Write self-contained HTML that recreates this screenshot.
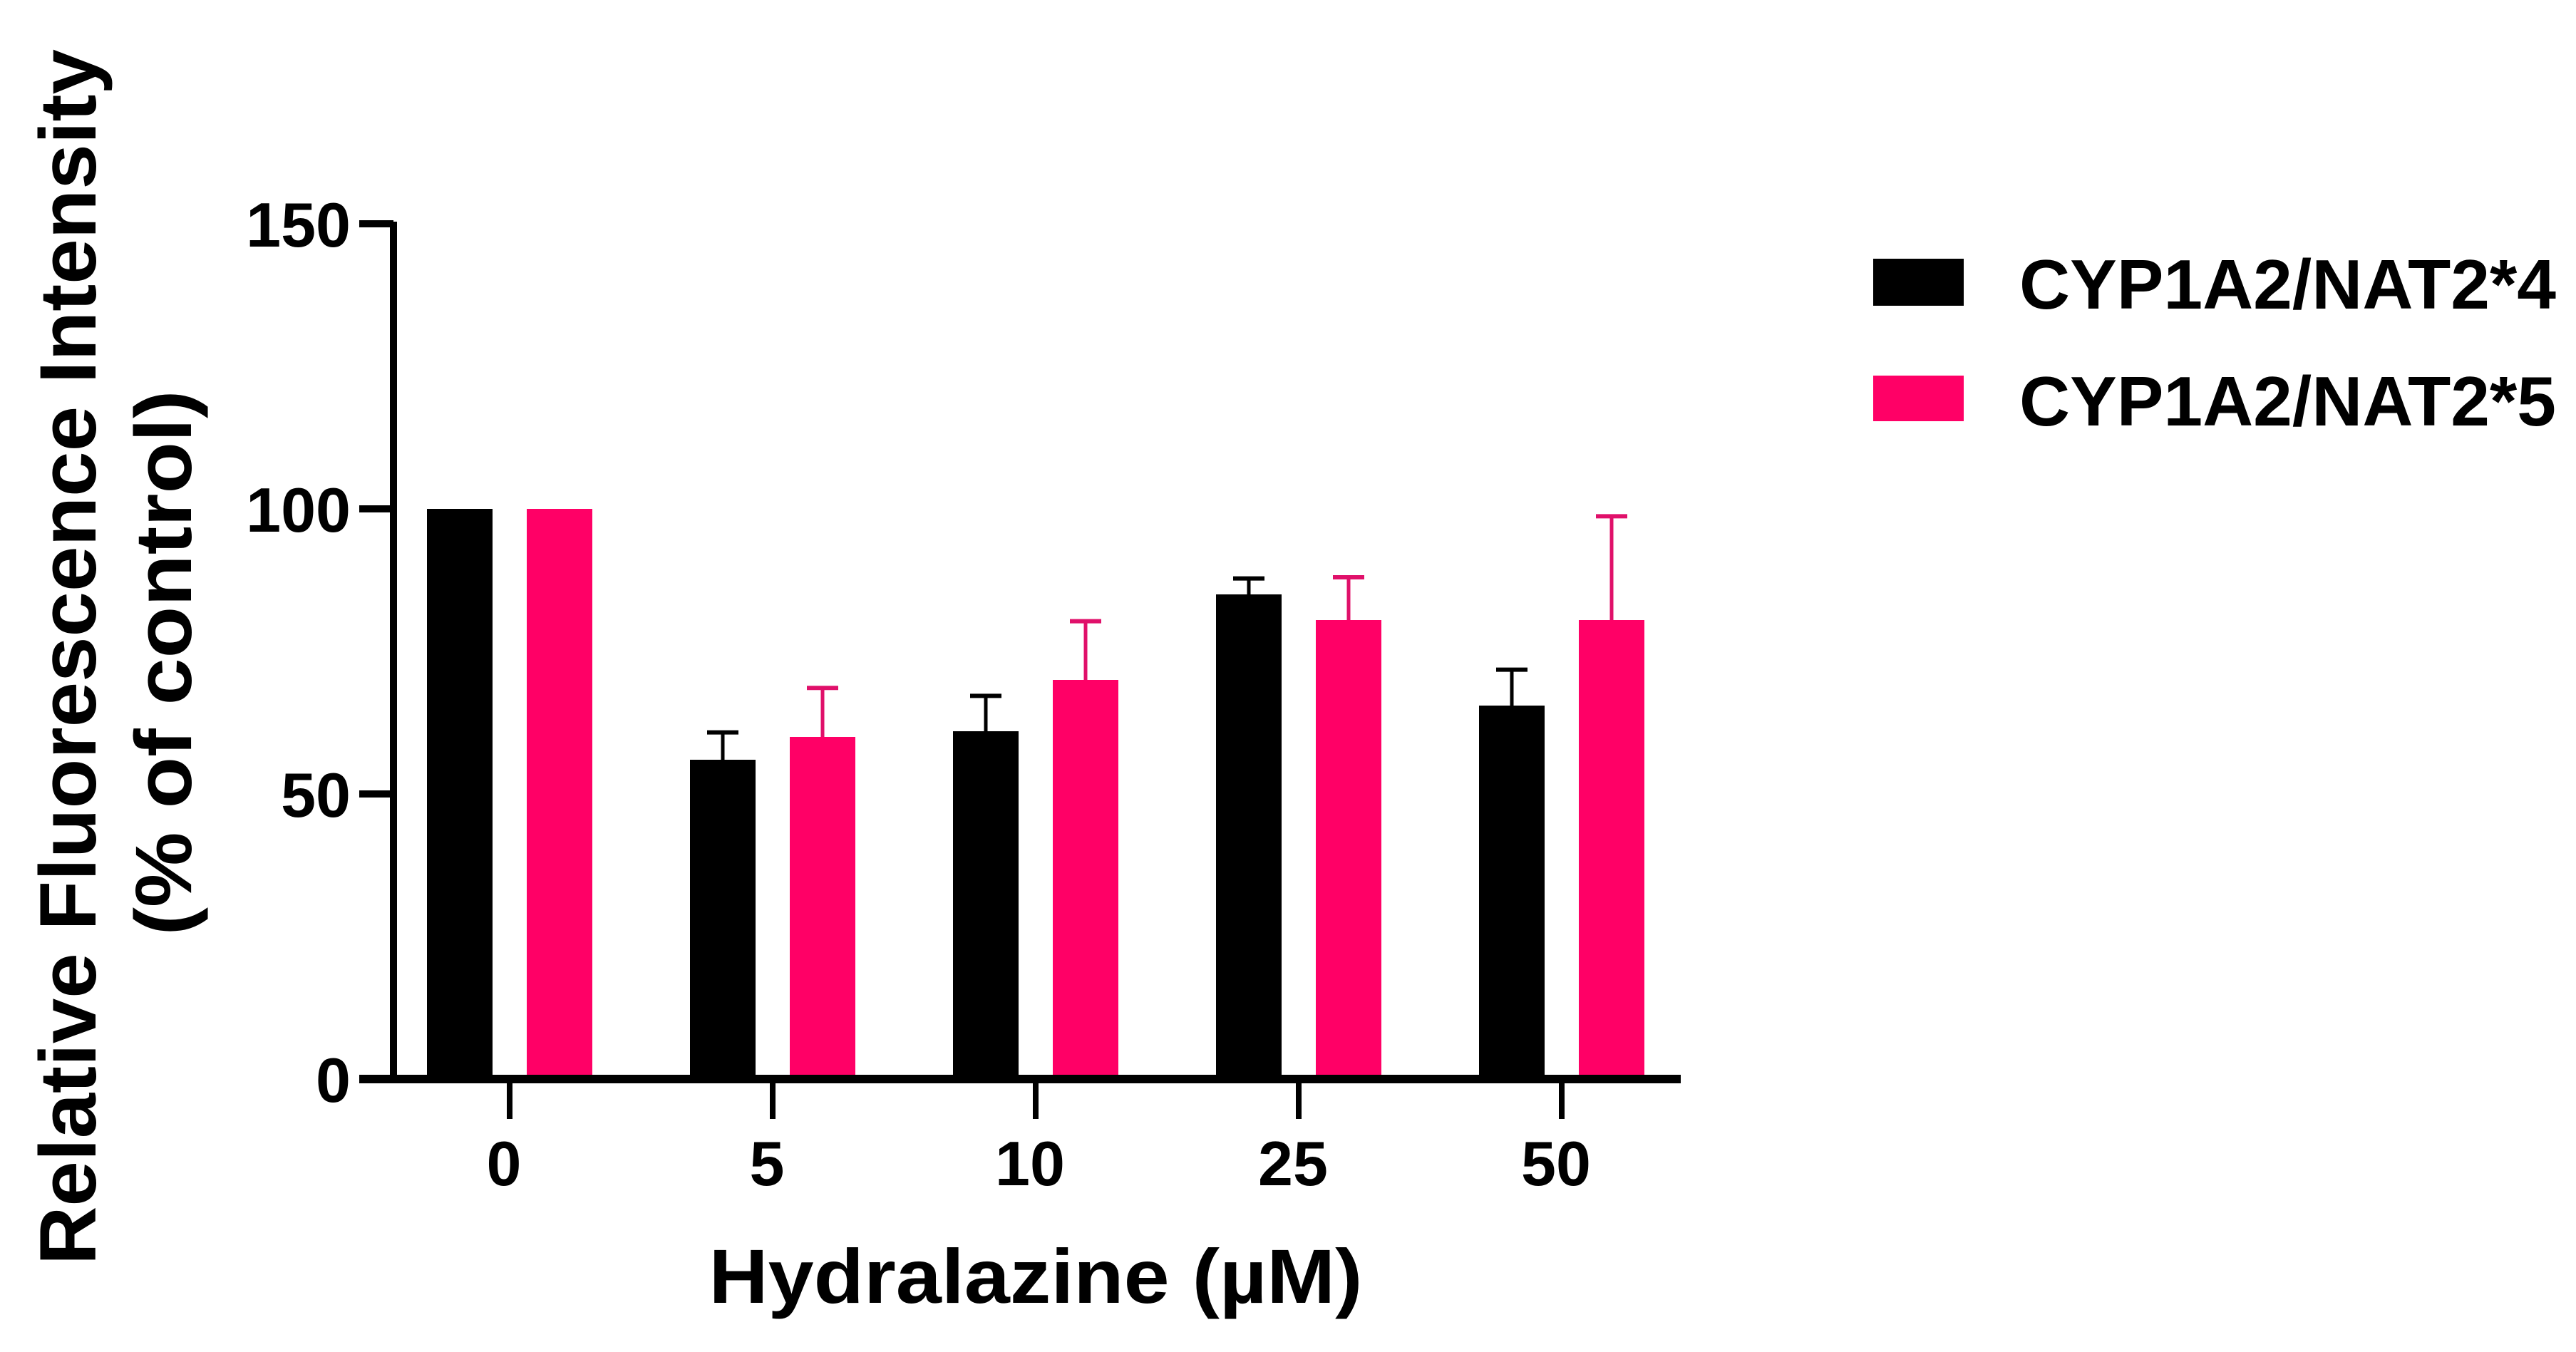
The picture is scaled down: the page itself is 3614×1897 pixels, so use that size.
<!DOCTYPE html>
<html><head><meta charset="utf-8"><style>
html,body{margin:0;padding:0;background:#fff;}
svg{display:block;font-family:"Liberation Sans",Arial,sans-serif;font-weight:bold;}
</style></head><body>
<svg id="chart" width="3614" height="1897" viewBox="0 0 3614 1897" xmlns="http://www.w3.org/2000/svg">
<rect width="3614" height="1897" fill="#fff"/>
<g id="plot"></g>
<text transform="translate(134,922) rotate(-90)" text-anchor="middle" font-size="112" textLength="1706" lengthAdjust="spacingAndGlyphs">Relative Fluorescence Intensity</text>
<text transform="translate(268,930) rotate(-90)" text-anchor="middle" font-size="112" textLength="765" lengthAdjust="spacingAndGlyphs">(% of control)</text>
<text x="1453" y="1828" text-anchor="middle" font-size="108" textLength="917" lengthAdjust="spacingAndGlyphs">Hydralazine (µM)</text>
<g>
<rect x="2628" y="363" width="127" height="66" fill="#000"/>
<text x="2833" y="433" font-size="98" textLength="753" lengthAdjust="spacingAndGlyphs">CYP1A2/NAT2*4</text>
<rect x="2628" y="527" width="127" height="64" fill="#ff0066"/>
<text x="2833" y="597" font-size="98" textLength="753" lengthAdjust="spacingAndGlyphs">CYP1A2/NAT2*5</text>
</g>
</svg>
<script>
const categories = ["0", "5", "10", "25", "50"];
const seriesNames = ["CYP1A2/NAT2*4", "CYP1A2/NAT2*5"];
const nat24Values = [100, 56, 61, 85, 65.5];
const nat24Errors = [0, 4.8, 6.2, 2.8, 6.3];
const nat25Values = [100, 60, 70, 80.5, 80.5];
const nat25Errors = [0, 8.6, 10.3, 7.5, 18.2];
const yTicks = [0, 50, 100, 150];

const NS = "http://www.w3.org/2000/svg";
const plot = document.getElementById("plot");
const y0 = 1514, yTop = 314, yMax = 150;
const yScale = v => y0 - (v / yMax) * (y0 - yTop);
const xStart = 715, xStep = 369;
const xScale = i => xStart + i * xStep;
const barW = 92, offset = 70;

function mk(tag, attrs) {
  const e = document.createElementNS(NS, tag);
  for (const k in attrs) e.setAttribute(k, attrs[k]);
  plot.appendChild(e);
  return e;
}

const series = [
  {vals: nat24Values, errs: nat24Errors, fill: "#000", err: "#000", off: -offset, key: "nat2-4"},
  {vals: nat25Values, errs: nat25Errors, fill: "#ff0066", err: "#e0106a", off: offset, key: "nat2-5"}
];
series.forEach(s => {
  categories.forEach((c, i) => {
    const cx = xScale(i) + s.off;
    const v = s.vals[i];
    const r = mk("rect", {x: cx - barW / 2, y: yScale(v), width: barW, height: y0 - yScale(v), fill: s.fill});
    
    
    if (s.errs[i] > 0) {
      const top = yScale(v + s.errs[i]);
      const l = mk("line", {x1: cx, x2: cx, y1: yScale(v), y2: top, stroke: s.err, "stroke-width": 5});
      
      
      const cap = mk("line", {x1: cx - 22, x2: cx + 22, y1: top, y2: top, stroke: s.err, "stroke-width": 6});
      
      
    }
  });
});

// axes
const ya = mk("line", {x1: 552, x2: 552, y1: yTop - 3, y2: y0 + 6, stroke: "#000", "stroke-width": 10});


const xa = mk("line", {x1: 504, x2: 2358, y1: y0, y2: y0, stroke: "#000", "stroke-width": 12});



yTicks.forEach(t => {
  const y = yScale(t);
  const tk = mk("line", {x1: 504, x2: 552, y1: y, y2: y, stroke: "#000", "stroke-width": 10});
  
  
  const lb = mk("text", {x: 492, y: y + 32, "text-anchor": "end", "font-size": 88});
  lb.textContent = t;
  
  
});

categories.forEach((c, i) => {
  const x = xScale(i);
  const tk = mk("line", {x1: x, x2: x, y1: y0, y2: 1570, stroke: "#000", "stroke-width": 8});
  
  
  const lb = mk("text", {x: x - 8, y: 1663, "text-anchor": "middle", "font-size": 88});
  lb.textContent = c;
  
  
});
</script>
</body></html>
